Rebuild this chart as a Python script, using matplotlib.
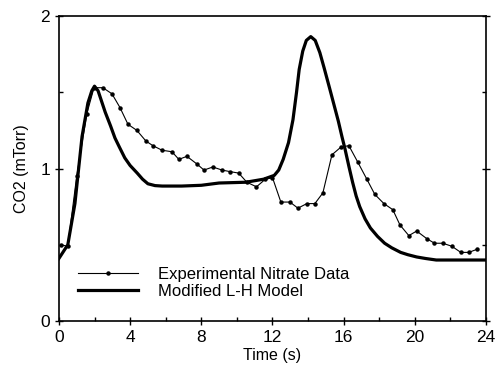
import matplotlib.pyplot as plt
from matplotlib.ticker import MultipleLocator

plt.rcParams['font.family'] = ['Liberation Sans', 'DejaVu Sans']

exp_t = [0.1, 0.5, 1.0, 1.57, 1.97, 2.47, 2.98, 3.43, 3.88, 4.38, 4.89, 5.28,
         5.79, 6.35, 6.74, 7.19, 7.75, 8.15, 8.65, 9.16, 9.6, 10.1, 10.56, 11.1,
         11.6, 12.0, 12.47, 12.98, 13.43, 13.93, 14.38, 14.83, 15.34, 15.84,
         16.29, 16.8, 17.3, 17.75, 18.26, 18.76, 19.16, 19.66, 20.1, 20.67,
         21.1, 21.57, 22.08, 22.58, 23.03, 23.48]
exp_v = [0.50, 0.49, 0.95, 1.36, 1.53, 1.53, 1.49, 1.40, 1.29, 1.25, 1.18, 1.15,
         1.12, 1.11, 1.06, 1.08, 1.03, 0.99, 1.01, 0.99, 0.98, 0.97, 0.91, 0.88,
         0.93, 0.94, 0.78, 0.78, 0.74, 0.77, 0.77, 0.84, 1.09, 1.14,
         1.15, 1.04, 0.93, 0.83, 0.77, 0.73, 0.63, 0.56, 0.59, 0.54,
         0.51, 0.51, 0.49, 0.45, 0.45, 0.47]

# modified L-H model curve
mod_t = [0.0, 0.5, 0.9, 1.3, 1.63, 1.85, 2.0, 2.2, 2.4, 2.6, 2.9, 3.15, 3.4,
         3.7, 4.0, 4.4, 4.7, 5.0, 5.4, 5.8, 6.9, 8.0, 9.0, 10.5, 11.5, 12.1,
         12.35, 12.6, 12.9, 13.15, 13.35, 13.5, 13.7, 13.9, 14.15, 14.4, 14.66,
         14.9, 15.2, 15.45, 15.7, 15.9, 16.07, 16.3, 16.5, 16.7, 16.9, 17.2,
         17.5, 17.9, 18.3, 18.7, 19.2, 19.6, 20.1, 20.6, 21.2, 24.0]
mod_v = [0.41, 0.50, 0.77, 1.21, 1.43, 1.51, 1.54, 1.51, 1.44, 1.37, 1.28, 1.20,
         1.14, 1.07, 1.02, 0.97, 0.93, 0.90, 0.888, 0.885, 0.885, 0.89, 0.905,
         0.91, 0.93, 0.955, 0.99, 1.06, 1.17, 1.32, 1.50, 1.65, 1.77, 1.84,
         1.865, 1.84, 1.76, 1.66, 1.53, 1.42, 1.31, 1.21, 1.13, 1.01, 0.91,
         0.82, 0.75, 0.67, 0.61, 0.555, 0.51, 0.48, 0.45, 0.435, 0.42, 0.41,
         0.40, 0.40]

fig = plt.figure(figsize=(4.95, 3.77), dpi=100)
ax = fig.add_axes([0.119, 0.1485, 0.863, 0.809])

ax.plot(exp_t, exp_v, color='black', lw=0.8, marker='o', ms=2.2,
        label='Experimental Nitrate Data')
ax.plot(mod_t, mod_v, color='black', lw=2.3, solid_joinstyle='round',
        label='Modified L-H Model')

ax.set_xlim(0, 24)
ax.set_ylim(0, 2)
ax.xaxis.set_major_locator(MultipleLocator(4))
ax.xaxis.set_minor_locator(MultipleLocator(2))
ax.yaxis.set_major_locator(MultipleLocator(1))
ax.yaxis.set_minor_locator(MultipleLocator(0.5))
ax.tick_params(which='major', direction='inout', length=6, width=1,
               labelsize=12.5)
ax.tick_params(which='minor', direction='in', length=3, width=1)
ax.tick_params(axis='y', which='both', right=True)
for s in ax.spines.values():
    s.set_linewidth(1.2)

ax.set_xlabel('Time (s)', fontsize=11.5, labelpad=2)
ax.set_ylabel('CO2 (mTorr)', fontsize=11.5, labelpad=8)

ax.legend(loc='lower left', bbox_to_anchor=(0.03, 0.05), frameon=False,
          fontsize=12, handlelength=3.6, handletextpad=1.2, labelspacing=0.15,
          borderaxespad=0)

fig.savefig('out.png', dpi=100)
